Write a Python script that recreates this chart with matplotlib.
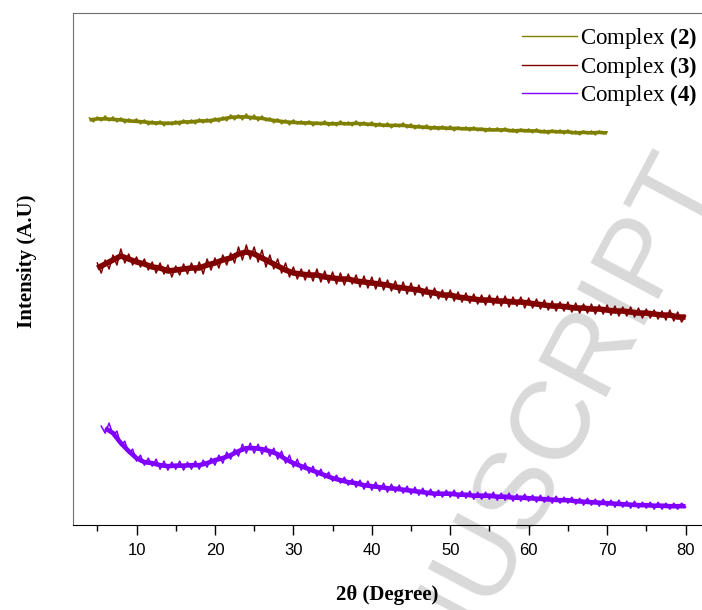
import numpy as np
import matplotlib
matplotlib.use("Agg")
import matplotlib.pyplot as plt

plt.rcParams['mathtext.fontset'] = 'custom'
plt.rcParams['mathtext.rm'] = 'Liberation Serif'
plt.rcParams['mathtext.bf'] = 'Liberation Serif:bold'

# intensities (arbitrary units)
# noisy traces, 0.5 degree step
start2, start3, start4 = 4.0, 5.0, 5.5
step = 0.5

c2 = [407,403,408,404,409,404,408,403,407,402,406,403,406,401,405,400,404,400,404,399,
      403,400,404,400,405,401,405,401,406,402,406,402,407,403,408,404,410,405,410,405,
      411,405,410,404,409,404,407,402,406,401,405,400,405,
      401,404,400,404,399,403,400,404,399,403,399,404,400,403,399,404,399,403,399,403,
      398,402,398,402,397,401,398,402,397,401,396,400,396,400,395,399,395,399,395,399,
      394,398,395,398,394,398,394,397,393,397,394,397,393,397,393,396,392,396,393,396,
      392,396,392,395,391,395,392,395,391,395,391,394,390,394,391,394,390,394,391,393]

c3 = [262,252,265,256,270,260,276,262,271,260,268,258,266,255,263,252,262,251,260,248,
      259,250,261,251,262,252,263,251,266,255,267,257,270,260,272,262,278,265,280,266,
      278,263,275,258,270,256,266,252,262,248,258,246,256,245,255,244,256,243,254,242,
      253,241,252,240,251,241,250,238,249,237,248,236,247,235,245,234,244,232,243,231,
      242,230,240,229,238,227,237,226,235,225,235,224,233,223,232,222,231,221,230,220,
      230,220,229,219,229,218,228,219,228,217,227,217,226,216,225,215,224,214,223,214,
      223,213,222,212,221,212,221,211,220,211,220,210,219,209,218,209,218,208,217,207,
      216,207,215,206,214,205,215,204,213,203,209]

c4 = [99,92,102,90,94,80,84,72,76,64,70,60,67,59,66,56,64,55,63,56,
      64,55,63,56,64,56,65,58,67,60,70,62,73,66,76,69,81,72,82,72,
      81,71,79,69,77,66,74,62,70,58,66,55,62,52,59,49,56,47,53,44,
      50,42,48,40,46,38,45,36,44,35,43,34,42,33,41,33,40,32,39,31,
      38,30,37,29,36,28,35,28,35,28,35,27,34,27,34,26,33,26,33,26,
      33,25,32,25,32,24,31,24,31,24,30,23,30,23,29,22,29,22,28,22,
      28,21,27,20,27,20,26,19,26,19,25,18,25,18,24,17,24,17,23,17,
      23,16,23,16,22,16,22,16,22,18]

# mean level of each trace, 1 degree step
base_start2, base_start3, base_start4 = 4, 5, 6
b2 = [405,406,406,405.5,405,404,403.5,403,402,402,401.5,402,403,403,404,404,405,406,407.5,408,
      408,407,406.5,405,404,403,402.5,402,402,401.5,401.5,401,401.5,401,401.5,401,400.5,400,399.5,399.5,
      399.5,398.5,398,397.5,397,397,396.5,396.5,396,396,395.5,395,395,395,394,394.5,394,394,393,393.5,
      393,393,392,392.5,392,392.5,392]
b3 = [257,261,265,269,266,263,261,258,257,254,255,256,257,257,260,262,265,267,271,273,
      271,267,263,259,255,252,251,250,250,248,247,246,246,244,243,242,241,240,238,237,
      236,235,233,232,230,230,228,227,226,225,225,224,224,223,223,222,221,220,219,219,
      218,217,217,216,216,215,214,214,213,212,212,211,210,210,208,208]
b4 = [97,92,82,74,67,63,62,60,59,59.5,59.5,60,60,62,65,67,70,74,77,77,
      76,74,71,66,62,59,56,53,50,47,45,43,42,40,39,38,37,36.5,35.5,34.5,
      33.5,32.5,31.5,31.5,31.5,30.5,30.5,29.5,29.5,29.5,28.5,28.5,27.5,27.5,27,26.5,26,25.5,25,25,
      24,23.5,23,22.5,22,21.5,21,20.5,20,20,19.5,19.5,19,19,19]

labels = ["Complex $\\mathbf{(2)}$", "Complex $\\mathbf{(3)}$", "Complex $\\mathbf{(4)}$"]
colors = ["#808000", "#800000", "#8000ff"]
core_lw = [2.6, 4.0, 3.3]

fig = plt.figure(figsize=(7.02, 6.10), dpi=100)
ax = fig.add_axes([0.104, 0.139, 0.896, 0.840])

# watermark behind the data
fig.text(0.9915, 0.726, "ACCEPTED MANUSCRIPT", rotation=62, rotation_mode='anchor',
         ha='right', va='center', fontsize=80, color='#d9d9d9',
         family='Liberation Sans', zorder=0)
ax.set_zorder(1)
ax.patch.set_alpha(0)

series = [(start2, c2, base_start2, b2), (start3, c3, base_start3, b3), (start4, c4, base_start4, b4)]
for (start, vals, bstart, base), lab, col, lw in zip(series, labels, colors, core_lw):
    xb = bstart + np.arange(len(base))
    ax.plot(xb, base, color=col, lw=lw, solid_capstyle='butt')
    x = start + step * np.arange(len(vals))
    ax.plot(x, vals, color=col, lw=1.1, label=lab)

ax.set_xlim(1.9, 82.1)
ax.set_ylim(0, 512)
ax.set_yticks([])
ax.set_xticks(range(10, 81, 10))
ax.set_xticks(range(5, 81, 10), minor=True)
ax.tick_params(axis='x', which='major', direction='out', length=7, width=1, labelsize=12, pad=6)
ax.tick_params(axis='x', which='minor', direction='out', length=4, width=1)
for t in ax.get_xticklabels():
    t.set_family('Liberation Sans')
ax.spines['right'].set_visible(False)
for s in ['left', 'top']:
    ax.spines[s].set_color('#707070')
ax.spines['bottom'].set_color('black')

ax.set_xlabel("2θ (Degree)", family='Liberation Serif', fontweight='bold', fontsize=15, labelpad=19)
ax.set_ylabel("Intensity (A.U)", family='Liberation Serif', fontweight='bold', fontsize=15)
ax.yaxis.set_label_coords(-0.058, 0.515)

leg = ax.legend(loc='upper right', bbox_to_anchor=(1.013, 1.0), frameon=False,
                prop={'family': 'Liberation Serif', 'size': 16.5}, handlelength=2.4,
                handletextpad=0.15, labelspacing=0.1, borderaxespad=0.0, borderpad=0.55)
for h in leg.get_lines():
    h.set_linewidth(1.0)

fig.savefig("out.png", dpi=100)
